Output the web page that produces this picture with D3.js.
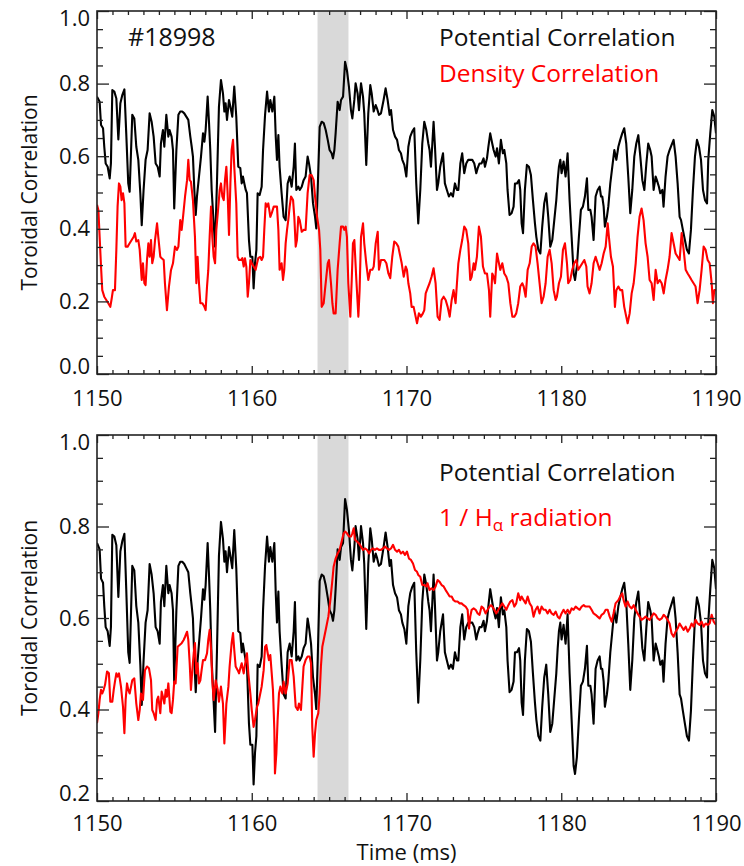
<!DOCTYPE html>
<html>
<head>
<meta charset="utf-8">
<script src="https://cdn.jsdelivr.net/npm/d3@7"></script>
<style>
  body { margin: 0; background: #fff; }
  svg { display: block; }
  text { font-family: "Open Sans", "Noto Sans", sans-serif; }
</style>
</head>
<body>
<svg id="chart" width="744" height="866"></svg>
<script>
// Shot #18998: toroidal correlations vs time (ms)
const shotLabel = "#18998";
const xTicks = [1150, 1160, 1170, 1180, 1190];
const topYTicks = [0.0, 0.2, 0.4, 0.6, 0.8, 1.0];
const bottomYTicks = [0.2, 0.4, 0.6, 0.8, 1.0];
const shadedWindow = [1164.25, 1166.25];

// Potential correlation [time ms, value]
const potentialCorr = [
[1150.00,0.764],[1150.17,0.750],[1150.26,0.686],[1150.39,0.677],[1150.47,0.626],[1150.56,0.580],[1150.69,0.571],[1150.82,0.539],[1150.90,0.580],[1150.99,0.782],
[1151.12,0.778],[1151.25,0.759],[1151.38,0.646],[1151.51,0.746],[1151.64,0.769],[1151.77,0.784],[1151.89,0.663],[1152.02,0.525],[1152.11,0.502],[1152.28,0.714],
[1152.41,0.704],[1152.54,0.626],[1152.67,0.590],[1152.80,0.498],[1152.89,0.410],[1153.01,0.507],[1153.14,0.590],[1153.27,0.617],[1153.40,0.718],[1153.53,0.695],
[1153.66,0.654],[1153.79,0.580],[1153.92,0.571],[1154.05,0.544],[1154.13,0.635],[1154.26,0.672],[1154.35,0.626],[1154.48,0.714],[1154.61,0.654],[1154.69,0.672],
[1154.82,0.654],[1154.91,0.617],[1154.99,0.456],[1155.13,0.617],[1155.26,0.714],[1155.38,0.723],[1155.51,0.723],[1155.64,0.718],[1155.77,0.709],[1155.90,0.700],
[1156.03,0.654],[1156.12,0.626],[1156.20,0.599],[1156.29,0.507],[1156.38,0.438],[1156.46,0.489],[1156.59,0.544],[1156.72,0.599],[1156.85,0.663],[1156.94,0.640],
[1157.02,0.672],[1157.15,0.764],[1157.24,0.691],[1157.32,0.617],[1157.41,0.507],[1157.54,0.415],[1157.63,0.351],[1157.75,0.525],[1157.88,0.736],[1158.01,0.810],
[1158.14,0.773],[1158.23,0.723],[1158.31,0.746],[1158.40,0.700],[1158.53,0.755],[1158.62,0.736],[1158.74,0.709],[1158.87,0.792],[1159.00,0.709],[1159.13,0.571],
[1159.26,0.567],[1159.35,0.525],[1159.43,0.544],[1159.52,0.525],[1159.61,0.507],[1159.69,0.498],[1159.82,0.369],[1159.91,0.323],[1160.04,0.323],[1160.12,0.236],
[1160.21,0.305],[1160.30,0.342],[1160.38,0.498],[1160.51,0.493],[1160.64,0.516],[1160.73,0.617],[1160.86,0.714],[1160.99,0.778],[1161.11,0.723],[1161.20,0.755],
[1161.33,0.723],[1161.46,0.764],[1161.55,0.654],[1161.63,0.590],[1161.72,0.658],[1161.80,0.571],[1161.93,0.498],[1162.06,0.433],[1162.19,0.424],[1162.32,0.525],
[1162.45,0.544],[1162.58,0.516],[1162.71,0.571],[1162.79,0.635],[1162.88,0.507],[1163.01,0.516],[1163.10,0.507],[1163.23,0.516],[1163.35,0.534],[1163.48,0.544],
[1163.61,0.599],[1163.70,0.580],[1163.83,0.544],[1163.96,0.470],[1164.09,0.433],[1164.17,0.401],[1164.26,0.507],[1164.39,0.681],[1164.52,0.695],[1164.65,0.691],
[1164.78,0.672],[1164.91,0.645],[1165.03,0.617],[1165.16,0.608],[1165.25,0.594],[1165.34,0.617],[1165.42,0.663],[1165.55,0.750],[1165.68,0.727],[1165.77,0.755],
[1165.90,0.764],[1166.03,0.860],[1166.15,0.837],[1166.28,0.792],[1166.41,0.727],[1166.50,0.704],[1166.63,0.755],[1166.71,0.801],[1166.84,0.773],[1166.93,0.727],
[1167.06,0.801],[1167.19,0.764],[1167.27,0.718],[1167.40,0.576],[1167.53,0.718],[1167.66,0.796],[1167.75,0.773],[1167.88,0.723],[1168.01,0.741],[1168.09,0.732],
[1168.22,0.714],[1168.35,0.718],[1168.52,0.755],[1168.65,0.787],[1168.78,0.755],[1168.91,0.714],[1169.00,0.727],[1169.13,0.672],[1169.26,0.654],[1169.39,0.645],
[1169.51,0.617],[1169.64,0.608],[1169.73,0.590],[1169.86,0.576],[1169.99,0.544],[1170.12,0.626],[1170.24,0.654],[1170.37,0.668],[1170.50,0.677],[1170.63,0.525],
[1170.76,0.415],[1170.89,0.507],[1171.02,0.635],[1171.15,0.695],[1171.28,0.672],[1171.41,0.635],[1171.49,0.617],[1171.58,0.571],[1171.67,0.635],[1171.75,0.695],
[1171.84,0.626],[1171.97,0.507],[1172.05,0.525],[1172.18,0.571],[1172.27,0.590],[1172.36,0.608],[1172.48,0.525],[1172.61,0.507],[1172.74,0.489],[1172.87,0.498],
[1173.00,0.489],[1173.13,0.525],[1173.26,0.507],[1173.35,0.507],[1173.48,0.580],[1173.60,0.608],[1173.73,0.553],[1173.86,0.580],[1173.99,0.590],[1174.12,0.590],
[1174.25,0.590],[1174.38,0.580],[1174.51,0.553],[1174.60,0.567],[1174.72,0.580],[1174.85,0.580],[1174.98,0.594],[1175.07,0.571],[1175.20,0.594],[1175.29,0.626],
[1175.41,0.663],[1175.54,0.635],[1175.63,0.617],[1175.76,0.599],[1175.85,0.622],[1175.97,0.580],[1176.10,0.645],[1176.23,0.608],[1176.32,0.617],[1176.45,0.580],
[1176.53,0.507],[1176.66,0.438],[1176.79,0.443],[1176.92,0.461],[1177.01,0.525],[1177.14,0.525],[1177.27,0.534],[1177.35,0.507],[1177.44,0.415],[1177.53,0.388],
[1177.65,0.507],[1177.78,0.576],[1177.91,0.571],[1178.04,0.548],[1178.17,0.479],[1178.30,0.415],[1178.39,0.378],[1178.52,0.342],[1178.65,0.332],[1178.77,0.406],
[1178.90,0.470],[1179.03,0.498],[1179.16,0.433],[1179.29,0.351],[1179.42,0.369],[1179.55,0.424],[1179.68,0.479],[1179.77,0.534],[1179.85,0.571],[1179.94,0.590],
[1180.02,0.553],[1180.15,0.585],[1180.28,0.544],[1180.41,0.608],[1180.54,0.479],[1180.67,0.378],[1180.80,0.277],[1180.89,0.259],[1181.01,0.296],[1181.14,0.378],
[1181.27,0.452],[1181.40,0.461],[1181.53,0.489],[1181.66,0.539],[1181.75,0.452],[1181.88,0.452],[1181.96,0.433],[1182.09,0.369],[1182.22,0.489],[1182.35,0.507],
[1182.48,0.516],[1182.57,0.489],[1182.65,0.489],[1182.74,0.461],[1182.82,0.406],[1182.95,0.433],[1183.04,0.461],[1183.17,0.525],[1183.30,0.571],[1183.43,0.617],
[1183.56,0.590],[1183.69,0.626],[1183.81,0.645],[1183.94,0.663],[1184.07,0.677],[1184.20,0.635],[1184.33,0.544],[1184.46,0.443],[1184.59,0.507],[1184.72,0.599],
[1184.85,0.635],[1184.98,0.658],[1185.11,0.599],[1185.24,0.534],[1185.37,0.507],[1185.50,0.580],[1185.62,0.635],[1185.75,0.617],[1185.84,0.599],[1185.97,0.507],
[1186.10,0.544],[1186.18,0.534],[1186.31,0.516],[1186.40,0.498],[1186.53,0.507],[1186.61,0.461],[1186.74,0.544],[1186.87,0.599],[1187.00,0.617],[1187.13,0.631],
[1187.26,0.645],[1187.39,0.599],[1187.52,0.525],[1187.65,0.433],[1187.74,0.424],[1187.86,0.397],[1187.99,0.369],[1188.12,0.342],[1188.25,0.332],[1188.38,0.397],
[1188.51,0.507],[1188.64,0.599],[1188.77,0.645],[1188.90,0.626],[1189.03,0.590],[1189.16,0.507],[1189.29,0.479],[1189.42,0.470],[1189.50,0.590],[1189.63,0.663],
[1189.76,0.727],[1189.89,0.709],[1190.00,0.663]
];

// Density correlation [time ms, value]
const densityCorr = [
[1150.00,0.466],[1150.09,0.452],[1150.17,0.378],[1150.26,0.296],[1150.34,0.231],[1150.47,0.213],[1150.60,0.204],[1150.73,0.195],[1150.86,0.185],[1150.95,0.208],
[1151.03,0.231],[1151.16,0.231],[1151.25,0.342],[1151.33,0.461],[1151.42,0.525],[1151.51,0.516],[1151.59,0.479],[1151.68,0.498],[1151.77,0.470],[1151.85,0.351],
[1151.98,0.351],[1152.11,0.360],[1152.24,0.369],[1152.37,0.378],[1152.45,0.388],[1152.54,0.365],[1152.67,0.369],[1152.76,0.342],[1152.89,0.259],[1152.97,0.305],
[1153.06,0.250],[1153.14,0.245],[1153.23,0.314],[1153.32,0.360],[1153.40,0.323],[1153.49,0.369],[1153.57,0.305],[1153.66,0.323],[1153.75,0.369],[1153.88,0.415],
[1153.96,0.378],[1154.09,0.323],[1154.18,0.319],[1154.31,0.314],[1154.39,0.250],[1154.52,0.176],[1154.65,0.241],[1154.78,0.286],[1154.91,0.305],[1155.04,0.351],
[1155.17,0.342],[1155.26,0.351],[1155.38,0.424],[1155.47,0.397],[1155.56,0.433],[1155.69,0.489],[1155.82,0.534],[1155.90,0.590],[1155.99,0.534],[1156.07,0.530],
[1156.20,0.479],[1156.33,0.378],[1156.42,0.250],[1156.50,0.323],[1156.59,0.250],[1156.68,0.195],[1156.81,0.195],[1156.94,0.185],[1157.02,0.176],[1157.11,0.241],
[1157.19,0.286],[1157.28,0.378],[1157.37,0.461],[1157.45,0.378],[1157.54,0.323],[1157.63,0.305],[1157.71,0.397],[1157.84,0.461],[1157.93,0.507],[1158.01,0.525],
[1158.10,0.489],[1158.19,0.479],[1158.27,0.534],[1158.36,0.571],[1158.44,0.498],[1158.53,0.383],[1158.62,0.525],[1158.70,0.617],[1158.79,0.645],[1158.87,0.571],
[1159.00,0.470],[1159.09,0.323],[1159.18,0.314],[1159.30,0.314],[1159.39,0.319],[1159.48,0.296],[1159.56,0.319],[1159.65,0.296],[1159.74,0.213],[1159.82,0.250],
[1159.91,0.314],[1160.00,0.305],[1160.12,0.296],[1160.25,0.287],[1160.34,0.305],[1160.42,0.319],[1160.55,0.323],[1160.64,0.314],[1160.73,0.323],[1160.81,0.397],
[1160.90,0.470],[1160.99,0.461],[1161.07,0.470],[1161.20,0.433],[1161.29,0.443],[1161.42,0.461],[1161.50,0.461],[1161.63,0.461],[1161.72,0.397],[1161.80,0.287],
[1161.93,0.305],[1162.02,0.259],[1162.10,0.287],[1162.19,0.360],[1162.28,0.397],[1162.36,0.424],[1162.45,0.461],[1162.54,0.489],[1162.67,0.479],[1162.75,0.433],
[1162.84,0.351],[1162.92,0.369],[1163.01,0.433],[1163.10,0.424],[1163.23,0.392],[1163.35,0.397],[1163.48,0.397],[1163.61,0.498],[1163.74,0.548],[1163.87,0.548],
[1164.00,0.534],[1164.09,0.489],[1164.22,0.433],[1164.35,0.397],[1164.43,0.342],[1164.52,0.185],[1164.65,0.195],[1164.73,0.231],[1164.82,0.268],[1164.91,0.305],
[1164.99,0.314],[1165.12,0.250],[1165.21,0.195],[1165.29,0.167],[1165.42,0.167],[1165.55,0.287],[1165.68,0.360],[1165.77,0.406],[1165.90,0.406],[1165.98,0.397],
[1166.07,0.406],[1166.15,0.378],[1166.24,0.250],[1166.37,0.158],[1166.46,0.259],[1166.54,0.360],[1166.63,0.369],[1166.76,0.259],[1166.89,0.158],[1166.97,0.231],
[1167.06,0.378],[1167.19,0.415],[1167.27,0.360],[1167.40,0.305],[1167.53,0.259],[1167.66,0.287],[1167.79,0.287],[1167.88,0.296],[1168.01,0.360],[1168.14,0.392],
[1168.22,0.287],[1168.35,0.314],[1168.44,0.314],[1168.57,0.314],[1168.70,0.305],[1168.83,0.277],[1168.95,0.264],[1169.08,0.323],[1169.21,0.365],[1169.34,0.360],
[1169.47,0.351],[1169.56,0.332],[1169.69,0.305],[1169.82,0.268],[1169.95,0.296],[1170.03,0.287],[1170.12,0.250],[1170.24,0.222],[1170.33,0.185],[1170.46,0.185],
[1170.59,0.158],[1170.68,0.140],[1170.80,0.167],[1170.93,0.158],[1171.06,0.167],[1171.15,0.176],[1171.24,0.222],[1171.36,0.236],[1171.49,0.250],[1171.62,0.268],
[1171.75,0.291],[1171.88,0.250],[1172.01,0.158],[1172.14,0.149],[1172.27,0.204],[1172.40,0.213],[1172.53,0.204],[1172.66,0.185],[1172.79,0.158],[1172.92,0.204],
[1173.04,0.231],[1173.17,0.195],[1173.26,0.250],[1173.35,0.305],[1173.48,0.342],[1173.60,0.369],[1173.73,0.406],[1173.86,0.397],[1173.99,0.360],[1174.12,0.259],
[1174.21,0.268],[1174.34,0.305],[1174.42,0.287],[1174.55,0.323],[1174.68,0.406],[1174.81,0.378],[1174.94,0.296],[1175.07,0.277],[1175.20,0.277],[1175.33,0.231],
[1175.41,0.158],[1175.54,0.277],[1175.63,0.268],[1175.72,0.250],[1175.85,0.332],[1175.93,0.314],[1176.06,0.287],[1176.19,0.305],[1176.32,0.277],[1176.45,0.268],
[1176.58,0.250],[1176.71,0.195],[1176.84,0.158],[1176.97,0.158],[1177.09,0.167],[1177.22,0.195],[1177.35,0.241],[1177.48,0.250],[1177.57,0.241],[1177.70,0.213],
[1177.83,0.287],[1177.96,0.305],[1178.09,0.351],[1178.21,0.360],[1178.34,0.351],[1178.47,0.305],[1178.60,0.250],[1178.73,0.195],[1178.86,0.213],[1178.99,0.250],
[1179.12,0.323],[1179.25,0.342],[1179.38,0.305],[1179.51,0.231],[1179.64,0.204],[1179.72,0.213],[1179.85,0.250],[1179.98,0.268],[1180.11,0.342],[1180.24,0.360],
[1180.37,0.305],[1180.45,0.250],[1180.58,0.259],[1180.71,0.287],[1180.84,0.305],[1180.97,0.314],[1181.10,0.287],[1181.23,0.296],[1181.36,0.305],[1181.49,0.314],
[1181.62,0.296],[1181.70,0.241],[1181.83,0.222],[1181.96,0.250],[1182.09,0.305],[1182.22,0.323],[1182.35,0.305],[1182.48,0.287],[1182.61,0.305],[1182.74,0.332],
[1182.87,0.351],[1183.00,0.415],[1183.08,0.378],[1183.21,0.323],[1183.34,0.296],[1183.47,0.185],[1183.56,0.231],[1183.69,0.241],[1183.82,0.231],[1183.94,0.231],
[1184.07,0.185],[1184.20,0.158],[1184.29,0.140],[1184.42,0.167],[1184.55,0.222],[1184.68,0.250],[1184.81,0.305],[1184.93,0.378],[1185.06,0.433],[1185.19,0.456],
[1185.32,0.424],[1185.45,0.360],[1185.58,0.323],[1185.71,0.259],[1185.84,0.250],[1185.97,0.204],[1186.10,0.287],[1186.23,0.250],[1186.36,0.259],[1186.49,0.250],
[1186.62,0.222],[1186.74,0.259],[1186.87,0.287],[1187.00,0.323],[1187.13,0.388],[1187.26,0.360],[1187.39,0.332],[1187.52,0.323],[1187.65,0.314],[1187.78,0.388],
[1187.91,0.342],[1188.04,0.287],[1188.17,0.277],[1188.30,0.268],[1188.42,0.259],[1188.55,0.250],[1188.68,0.241],[1188.81,0.195],[1188.94,0.231],[1189.07,0.287],
[1189.20,0.351],[1189.33,0.342],[1189.46,0.314],[1189.59,0.305],[1189.72,0.250],[1189.80,0.195],[1189.89,0.231],[1190.00,0.231]
];

// 1 / H-alpha radiation (normalised) [time ms, value]
const inverseHalpha = [
[1150.00,0.370],[1150.09,0.392],[1150.17,0.421],[1150.26,0.443],[1150.34,0.435],[1150.43,0.443],[1150.52,0.454],[1150.65,0.483],[1150.77,0.479],[1150.86,0.417],
[1150.99,0.417],[1151.08,0.443],[1151.16,0.461],[1151.25,0.479],[1151.33,0.472],[1151.42,0.479],[1151.55,0.450],[1151.68,0.406],[1151.77,0.348],[1151.85,0.421],
[1151.94,0.457],[1152.02,0.443],[1152.11,0.435],[1152.20,0.450],[1152.28,0.464],[1152.41,0.468],[1152.54,0.413],[1152.67,0.377],[1152.76,0.399],[1152.84,0.435],
[1152.97,0.421],[1153.10,0.486],[1153.23,0.494],[1153.36,0.490],[1153.49,0.464],[1153.57,0.399],[1153.66,0.392],[1153.79,0.377],[1153.88,0.421],[1153.96,0.428],
[1154.09,0.392],[1154.18,0.439],[1154.26,0.428],[1154.35,0.413],[1154.44,0.443],[1154.52,0.428],[1154.61,0.457],[1154.74,0.395],[1154.82,0.392],[1154.91,0.421],
[1154.99,0.461],[1155.08,0.457],[1155.21,0.537],[1155.34,0.541],[1155.47,0.545],[1155.60,0.552],[1155.69,0.559],[1155.82,0.570],[1155.90,0.552],[1155.99,0.501],
[1156.07,0.443],[1156.16,0.486],[1156.25,0.523],[1156.33,0.545],[1156.42,0.479],[1156.50,0.501],[1156.59,0.457],[1156.68,0.464],[1156.76,0.486],[1156.85,0.508],
[1156.98,0.508],[1157.11,0.523],[1157.19,0.552],[1157.28,0.574],[1157.37,0.530],[1157.45,0.464],[1157.54,0.421],[1157.67,0.464],[1157.80,0.443],[1157.88,0.417],
[1158.01,0.450],[1158.14,0.413],[1158.23,0.326],[1158.36,0.413],[1158.49,0.450],[1158.57,0.494],[1158.70,0.545],[1158.79,0.567],[1158.87,0.530],[1158.96,0.494],
[1159.09,0.486],[1159.18,0.479],[1159.26,0.490],[1159.35,0.501],[1159.48,0.479],[1159.61,0.508],[1159.69,0.523],[1159.78,0.479],[1159.91,0.435],[1160.00,0.399],
[1160.12,0.362],[1160.21,0.377],[1160.34,0.406],[1160.42,0.413],[1160.55,0.435],[1160.64,0.450],[1160.77,0.486],[1160.86,0.537],[1160.94,0.541],[1161.03,0.523],
[1161.11,0.508],[1161.20,0.519],[1161.29,0.479],[1161.37,0.443],[1161.46,0.355],[1161.50,0.260],[1161.59,0.304],[1161.67,0.377],[1161.76,0.435],[1161.85,0.450],
[1161.98,0.435],[1162.06,0.461],[1162.19,0.435],[1162.32,0.457],[1162.45,0.508],[1162.58,0.508],[1162.71,0.472],[1162.84,0.406],[1162.97,0.399],[1163.05,0.413],
[1163.18,0.399],[1163.27,0.450],[1163.35,0.494],[1163.48,0.508],[1163.61,0.516],[1163.74,0.516],[1163.83,0.501],[1163.91,0.362],[1164.00,0.297],[1164.09,0.348],
[1164.17,0.377],[1164.30,0.392],[1164.39,0.435],[1164.47,0.494],[1164.56,0.537],[1164.69,0.559],[1164.82,0.581],[1164.95,0.603],[1165.08,0.639],[1165.21,0.683],
[1165.29,0.712],[1165.42,0.730],[1165.55,0.741],[1165.68,0.749],[1165.81,0.767],[1165.94,0.785],[1166.03,0.789],[1166.15,0.785],[1166.28,0.778],[1166.41,0.778],
[1166.50,0.785],[1166.59,0.796],[1166.67,0.771],[1166.80,0.767],[1166.93,0.763],[1167.06,0.756],[1167.19,0.749],[1167.32,0.752],[1167.45,0.749],[1167.58,0.741],
[1167.71,0.749],[1167.83,0.752],[1167.96,0.749],[1168.09,0.752],[1168.22,0.749],[1168.35,0.749],[1168.48,0.752],[1168.61,0.756],[1168.74,0.752],[1168.87,0.749],
[1169.00,0.752],[1169.13,0.760],[1169.26,0.749],[1169.39,0.745],[1169.51,0.749],[1169.64,0.741],[1169.77,0.745],[1169.90,0.738],[1170.03,0.745],[1170.16,0.730],
[1170.29,0.727],[1170.42,0.719],[1170.55,0.705],[1170.68,0.701],[1170.76,0.694],[1170.89,0.690],[1171.02,0.672],[1171.15,0.672],[1171.28,0.669],[1171.36,0.676],
[1171.49,0.661],[1171.62,0.665],[1171.75,0.661],[1171.88,0.669],[1172.01,0.683],[1172.14,0.679],[1172.27,0.672],[1172.40,0.669],[1172.53,0.661],[1172.66,0.654],
[1172.79,0.647],[1172.92,0.647],[1173.04,0.639],[1173.17,0.636],[1173.30,0.636],[1173.43,0.632],[1173.56,0.632],[1173.69,0.628],[1173.82,0.625],[1173.95,0.618],
[1174.04,0.577],[1174.12,0.603],[1174.21,0.618],[1174.34,0.621],[1174.47,0.618],[1174.60,0.610],[1174.72,0.607],[1174.85,0.625],[1174.98,0.621],[1175.11,0.610],
[1175.24,0.618],[1175.37,0.625],[1175.46,0.628],[1175.54,0.625],[1175.67,0.618],[1175.80,0.610],[1175.93,0.618],[1176.06,0.625],[1176.19,0.632],[1176.32,0.625],
[1176.45,0.618],[1176.58,0.628],[1176.71,0.636],[1176.84,0.639],[1176.97,0.625],[1177.09,0.632],[1177.22,0.654],[1177.35,0.639],[1177.44,0.647],[1177.57,0.639],
[1177.70,0.632],[1177.83,0.647],[1177.96,0.632],[1178.09,0.625],[1178.21,0.603],[1178.34,0.618],[1178.47,0.625],[1178.60,0.610],[1178.73,0.625],[1178.86,0.618],
[1178.99,0.618],[1179.12,0.610],[1179.25,0.618],[1179.38,0.610],[1179.51,0.607],[1179.64,0.614],[1179.77,0.603],[1179.89,0.599],[1180.02,0.610],[1180.15,0.618],
[1180.28,0.610],[1180.41,0.618],[1180.54,0.610],[1180.67,0.621],[1180.80,0.618],[1180.93,0.625],[1181.06,0.621],[1181.19,0.618],[1181.32,0.625],[1181.45,0.628],
[1181.57,0.625],[1181.70,0.625],[1181.83,0.625],[1181.96,0.618],[1182.09,0.610],[1182.22,0.607],[1182.35,0.603],[1182.48,0.599],[1182.61,0.607],[1182.74,0.610],
[1182.87,0.618],[1183.00,0.618],[1183.13,0.603],[1183.26,0.592],[1183.38,0.610],[1183.51,0.632],[1183.69,0.639],[1183.81,0.647],[1183.94,0.654],[1184.03,0.639],
[1184.16,0.625],[1184.29,0.636],[1184.42,0.625],[1184.55,0.621],[1184.68,0.628],[1184.81,0.618],[1184.93,0.610],[1185.06,0.603],[1185.19,0.596],[1185.32,0.599],
[1185.45,0.603],[1185.58,0.599],[1185.71,0.596],[1185.84,0.603],[1185.97,0.610],[1186.10,0.607],[1186.23,0.599],[1186.36,0.596],[1186.49,0.599],[1186.62,0.607],
[1186.74,0.603],[1186.87,0.596],[1187.00,0.588],[1187.13,0.566],[1187.26,0.559],[1187.39,0.570],[1187.52,0.577],[1187.65,0.588],[1187.78,0.581],[1187.91,0.574],
[1188.04,0.581],[1188.17,0.570],[1188.30,0.577],[1188.42,0.588],[1188.55,0.581],[1188.68,0.596],[1188.81,0.588],[1188.94,0.585],[1189.07,0.592],[1189.20,0.581],
[1189.33,0.588],[1189.46,0.585],[1189.59,0.588],[1189.72,0.607],[1189.85,0.592],[1190.00,0.585]
];

const svg = d3.select("#chart");
const FONT = 22;
const LEGEND_FONT = 24.5;

const x = d3.scaleLinear().domain([1150, 1190]).range([97, 716]);

const panels = [
  { id: "top", yDomain: [0, 1], yRange: [374, 11], yTicks: topYTicks,
    red: densityCorr, legend: "density", xPad: 16 },
  { id: "bottom", yDomain: [0.2, 1], yRange: [801, 435], yTicks: bottomYTicks,
    red: inverseHalpha, legend: "halpha", xPad: 14 }
];

panels.forEach(p => {
  const y = d3.scaleLinear().domain(p.yDomain).range(p.yRange);
  const [yb, yt] = p.yRange;
  const [xl, xr] = x.range();
  const g = svg.append("g");

  g.append("clipPath").attr("id", "clip-" + p.id)
    .append("rect").attr("x", xl).attr("y", yt).attr("width", xr - xl).attr("height", yb - yt);

  // shaded time window
  g.append("rect")
    .attr("x", x(shadedWindow[0])).attr("width", x(shadedWindow[1]) - x(shadedWindow[0]))
    .attr("y", yt).attr("height", yb - yt)
    .attr("fill", "#d9d9d9");

  const line = d3.line().x(d => x(d[0])).y(d => y(d[1]));
  const plot = g.append("g").attr("clip-path", `url(#clip-${p.id})`);
  plot.append("path").datum(potentialCorr).attr("d", line)
    .attr("fill", "none").attr("stroke", "#000").attr("stroke-width", 2.1).attr("stroke-linejoin", "round");
  plot.append("path").datum(p.red).attr("d", line)
    .attr("fill", "none").attr("stroke", "#ff0000").attr("stroke-width", 2.1).attr("stroke-linejoin", "round");

  const plotH = yb - yt, plotW = xr - xl;
  const xMaj = Math.round(plotH * 0.021), yMaj = Math.round(plotW * 0.019);
  const minorX = d3.range(1150, 1191, 1).filter(v => v % 10 !== 0);
  const minorY = d3.range(Math.round(p.yDomain[0] * 20), Math.round(p.yDomain[1] * 20) + 1)
    .map(k => k / 20).filter(v => Math.abs(v * 5 - Math.round(v * 5)) > 1e-6);

  const styleAxis = sel => {
    sel.select(".domain").remove();
    sel.selectAll("line").attr("stroke", "#222").attr("stroke-width", 1.3);
    sel.selectAll("text").attr("font-size", FONT).attr("fill", "#111")
      .attr("font-family", '"Open Sans", sans-serif');
  };

  // bottom axis: labelled majors + minors
  g.append("g").attr("transform", `translate(0,${yb})`)
    .call(d3.axisBottom(x).tickValues(xTicks).tickFormat(d3.format("d")).tickSizeInner(-xMaj).tickSizeOuter(0).tickPadding(p.xPad))
    .call(styleAxis);
  g.append("g").attr("transform", `translate(0,${yb})`)
    .call(d3.axisBottom(x).tickValues(minorX).tickFormat("").tickSizeInner(-xMaj / 2).tickSizeOuter(0))
    .call(styleAxis);
  // top axis mirror ticks
  g.append("g").attr("transform", `translate(0,${yt})`)
    .call(d3.axisTop(x).tickValues(xTicks).tickFormat("").tickSizeInner(-xMaj).tickSizeOuter(0))
    .call(styleAxis);
  g.append("g").attr("transform", `translate(0,${yt})`)
    .call(d3.axisTop(x).tickValues(minorX).tickFormat("").tickSizeInner(-xMaj / 2).tickSizeOuter(0))
    .call(styleAxis);

  // left axis
  const yl = g.append("g").attr("transform", `translate(${xl},0)`)
    .call(d3.axisLeft(y).tickValues(p.yTicks).tickFormat(d3.format(".1f")).tickSizeInner(-yMaj).tickSizeOuter(0).tickPadding(7))
    .call(styleAxis);
  const n = p.yTicks.length;
  yl.selectAll(".tick text").attr("dy", (d, i) => i === 0 ? "-0.02em" : (i === n - 1 ? "0.66em" : "0.32em"));
  g.append("g").attr("transform", `translate(${xl},0)`)
    .call(d3.axisLeft(y).tickValues(minorY).tickFormat("").tickSizeInner(-yMaj / 2).tickSizeOuter(0))
    .call(styleAxis);
  // right axis mirror ticks
  g.append("g").attr("transform", `translate(${xr},0)`)
    .call(d3.axisRight(y).tickValues(p.yTicks).tickFormat("").tickSizeInner(-yMaj).tickSizeOuter(0))
    .call(styleAxis);
  g.append("g").attr("transform", `translate(${xr},0)`)
    .call(d3.axisRight(y).tickValues(minorY).tickFormat("").tickSizeInner(-yMaj / 2).tickSizeOuter(0))
    .call(styleAxis);

  // frame
  g.append("rect").attr("x", xl).attr("y", yt).attr("width", plotW).attr("height", plotH)
    .attr("fill", "none").attr("stroke", "#222").attr("stroke-width", 1.6);

  // y title
  g.append("text")
    .attr("transform", `translate(37,${(yt + yb) / 2}) rotate(-90)`)
    .attr("text-anchor", "middle").attr("font-size", 21).attr("fill", "#111")
    .text("Toroidal Correlation");

  // legend
  const legendX = 439;
  if (p.legend === "density") {
    g.append("text").attr("x", 128).attr("y", 46).attr("font-size", 25).attr("fill", "#111").text(shotLabel);
    g.append("text").attr("x", legendX).attr("y", 46).attr("font-size", LEGEND_FONT).attr("fill", "#111").text("Potential Correlation");
    g.append("text").attr("x", legendX).attr("y", 82).attr("font-size", LEGEND_FONT).attr("fill", "#ff0000").text("Density Correlation");
  } else {
    g.append("text").attr("x", legendX).attr("y", 481).attr("font-size", LEGEND_FONT).attr("fill", "#111").text("Potential Correlation");
    const t = g.append("text").attr("x", legendX).attr("y", 526).attr("font-size", LEGEND_FONT).attr("fill", "#ff0000");
    t.append("tspan").text("1 / H");
    t.append("tspan").attr("font-size", 17).attr("dy", 5).text("α");
    t.append("tspan").attr("dy", -5).text(" radiation");
  }
});

svg.append("text").attr("x", (x.range()[0] + x.range()[1]) / 2).attr("y", 860)
  .attr("text-anchor", "middle").attr("font-size", 22).attr("fill", "#111")
  .text("Time (ms)");
</script>
</body>
</html>
